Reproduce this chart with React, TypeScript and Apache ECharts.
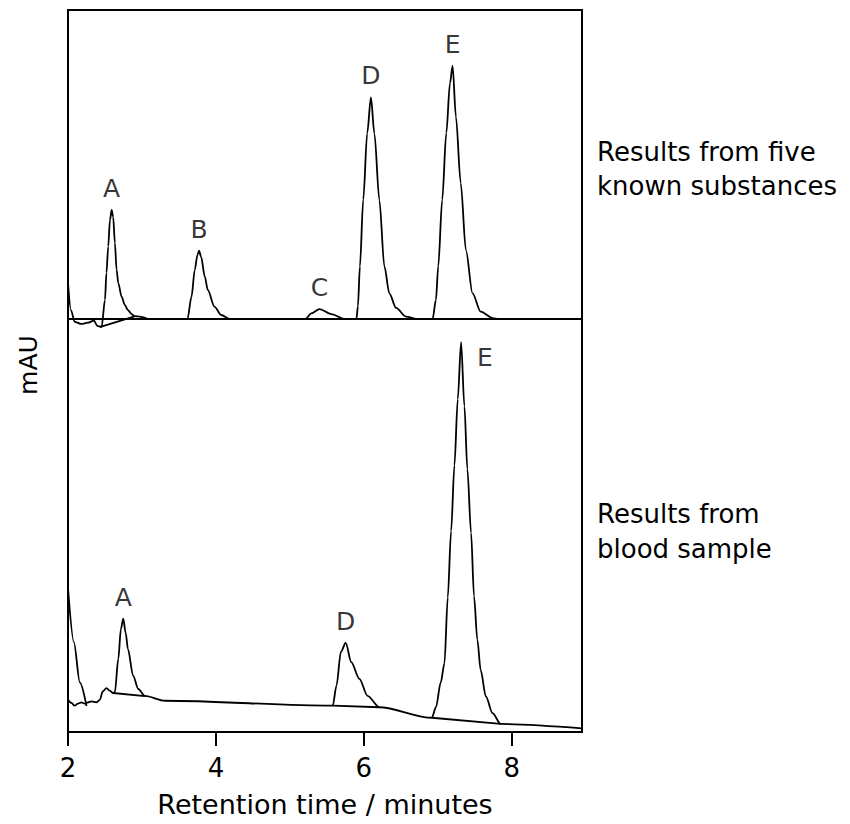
import React, { useEffect, useRef } from "react";
import * as echarts from "echarts";

// ---- axis ranges / ticks ----
const X_MIN = 2;
const X_MAX = 8.95;
const X_STEP = 2;
const TOP_MAX = 100;
const BOTTOM_MAX = 133.5;

// ---- texts ----
const xTitle = "Retention time / minutes";
const yTitle = "mAU";
const panelNames = ["Results from five\nknown substances", "Results from\nblood sample"];

// ---- top chromatogram (five known substances): [minutes, signal] ----
const topTrace: [number, number][] = [
  [2.0, 11.6], [2.04, 2.9], [2.09, -0.9], [2.18, -1.6], [2.27, -1.2], [2.35, -0.5], [2.4, -2.3], [2.455, -2.5],
  [2.5, 6.2], [2.52, 14.9], [2.544, 23.5], [2.567, 32], [2.59, 35.3], [2.611, 33], [2.634, 24.6], [2.657, 15.9],
  [2.68, 11.6], [2.725, 7.2], [2.77, 4.5], [2.81, 2.9], [2.86, 1.6], [2.9, 0.9], [2.97, 0.8], [3.01, 0.6], [3.08, 0],
  [3.615, 0], [3.67, 7.2], [3.714, 15.9], [3.75, 20.7], [3.772, 22.1], [3.8, 20.1], [3.85, 13.7], [3.89, 9.4],
  [3.98, 4.0], [4.07, 1.3], [4.19, 0],
  [5.21, 0], [5.29, 1.8], [5.4, 3.2], [5.56, 1.6], [5.74, 0],
  [5.9, 0], [5.92, 4.1], [5.947, 17.0], [5.992, 38.6], [6.046, 60.2], [6.096, 71.7], [6.143, 60], [6.21, 38.5],
  [6.278, 17], [6.345, 8.3], [6.436, 3.6], [6.57, 0.8], [6.73, 0],
  [6.93, 0], [6.975, 6.2], [7.006, 17], [7.06, 38.6], [7.115, 60.2], [7.165, 76.3], [7.2, 82], [7.245, 65.5],
  [7.31, 44], [7.38, 22.3], [7.47, 8.3], [7.58, 2.4], [7.74, 0.3], [7.82, 0], [8.95, 0],
];
const topBaselineA: [number, number][] = [[2.43, -2.6], [2.9, 0.85]];

// ---- bottom chromatogram (blood sample) ----
const bottomFront: [number, number][] = [[2.0, 46.5], [2.08, 29], [2.16, 16], [2.25, 8.4]];
const bottomTrace: [number, number][] = [
  [2.0, 10.4], [2.046, 9.4], [2.09, 8.5], [2.135, 9.2], [2.18, 9.6], [2.225, 9.2], [2.27, 9.6], [2.316, 9.9],
  [2.384, 9.6], [2.43, 10.4], [2.47, 13.1], [2.52, 14.2], [2.565, 13.4], [2.61, 12.6],
  [2.634, 12.9], [2.68, 23.6], [2.715, 33.3], [2.747, 36.6], [2.78, 32], [2.81, 26.9], [2.88, 18.2], [2.95, 13.9],
  [3.04, 11.7], [3.31, 10.1], [5.58, 8.5],
  [5.63, 15], [5.69, 25.9], [5.755, 28.8], [5.83, 22.6], [5.94, 17.2], [6.05, 11.7], [6.21, 8.0],
  [6.92, 4.6], [6.975, 8.0], [7.04, 16], [7.09, 22.2], [7.135, 43.5], [7.18, 64.9], [7.225, 86.2], [7.27, 107.5],
  [7.315, 126], [7.36, 105.3], [7.4, 85], [7.45, 64.4], [7.49, 43.9], [7.535, 29.8], [7.58, 20], [7.65, 11.5],
  [7.74, 6.1], [7.85, 2.6], [8.95, 1.2],
];
const bottomBaselineA: [number, number][] = [[2.61, 12.6], [3.04, 11.6]];
const bottomBaselineD: [number, number][] = [[5.58, 8.5], [6.21, 8.0]];
const bottomBaselineE: [number, number][] = [[6.92, 4.6], [7.85, 2.6]];

// ---- peak labels (at the apex of each peak) ----
const topPeakNames = ["A", "B", "C", "D", "E"];
const topPeakTimes = [2.59, 3.772, 5.4, 6.096, 7.2];
const topPeakValues = [35.3, 22.1, 3.2, 71.7, 82];
const bottomPeakNames = ["A", "D", "E"];
const bottomPeakTimes = [2.747, 5.755, 7.315];
const bottomPeakValues = [36.6, 28.8, 126];

const FONT = "'DejaVu Sans', 'Open Sans', sans-serif";

export default function App() {
  const ref = useRef<HTMLDivElement>(null);
  useEffect(() => {
    if (!ref.current) return;
    const chart = echarts.init(ref.current, null, { renderer: "svg" });
    const lineStyle = { color: "#000", width: 1.8 };
    const traceSeries = (data: [number, number][], idx: number, smooth: number | boolean) => ({
      type: "line",
      data,
      xAxisIndex: idx,
      yAxisIndex: idx,
      symbol: "none",
      smooth,
      smoothMonotone: "x",
      clip: false,
      lineStyle,
      itemStyle: { color: "#000" },
      silent: true,
    });
    const labelText = { color: "#000", fontSize: 25, fontFamily: FONT, textBorderWidth: 0 };
    const labelSeries = (names: string[], ts: number[], vs: number[], idx: number) => ({
      type: "scatter",
      xAxisIndex: idx,
      yAxisIndex: idx,
      symbolSize: 0,
      silent: true,
      itemStyle: { color: "#000" },
      data: names.map((n, i) => ({
        name: n,
        value: [ts[i], vs[i]],
        label:
          idx === 1 && n === "E"
            ? { ...labelText, show: true, position: "right", distance: 16, offset: [0, 15] }
            : { ...labelText, show: true, position: "top", distance: 9 },
      })),
      label: { show: true, formatter: (p: any) => p.name, ...labelText },
    });
    const gridBox = { show: true, borderColor: "#000", borderWidth: 2, backgroundColor: "transparent" };
    chart.setOption({
      animation: false,
      grid: [
        { ...gridBox, left: 68, top: 10, width: 514, height: 309 },
        { ...gridBox, left: 68, top: 319, width: 514, height: 413 },
      ],
      xAxis: [
        { type: "value", gridIndex: 0, min: X_MIN, max: X_MAX, interval: X_STEP, show: false },
        {
          type: "value",
          gridIndex: 1,
          min: X_MIN,
          max: X_MAX,
          interval: X_STEP,
          splitLine: { show: false },
          axisLine: { show: true, lineStyle: { color: "#000", width: 2 } },
          axisTick: { show: true, inside: false, length: 14, lineStyle: { color: "#000", width: 2 } },
          axisLabel: {
            show: true,
            color: "#000",
            fontSize: 26,
            fontFamily: FONT,
            margin: 23,
            showMaxLabel: false,
          },
          name: xTitle,
          nameLocation: "middle",
          nameGap: 59,
          nameTextStyle: { color: "#000", fontSize: 27, fontFamily: FONT },
        },
      ],
      yAxis: [
        { type: "value", gridIndex: 0, min: 0, max: TOP_MAX, show: false },
        { type: "value", gridIndex: 1, min: 0, max: BOTTOM_MAX, show: false },
      ],
      graphic: [
        {
          type: "text",
          x: 28,
          y: 365,
          rotation: Math.PI / 2,
          style: {
            text: yTitle,
            fill: "#000",
            fontSize: 25,
            fontFamily: FONT,
            align: "center",
            verticalAlign: "middle",
          },
        },
        {
          type: "text",
          x: 597,
          y: 169,
          style: {
            text: panelNames[0],
            fill: "#000",
            fontSize: 26,
            lineHeight: 34,
            fontFamily: FONT,
            align: "left",
            verticalAlign: "middle",
          },
        },
        {
          type: "text",
          x: 597,
          y: 531,
          style: {
            text: panelNames[1],
            fill: "#000",
            fontSize: 26,
            lineHeight: 35,
            fontFamily: FONT,
            align: "left",
            verticalAlign: "middle",
          },
        },
      ],
      series: [
        traceSeries(topTrace, 0, 0.3),
        traceSeries(topBaselineA, 0, false),
        traceSeries(bottomFront, 1, 0.3),
        traceSeries(bottomTrace, 1, 0.3),
        traceSeries(bottomBaselineA, 1, false),
        traceSeries(bottomBaselineD, 1, false),
        traceSeries(bottomBaselineE, 1, false),
        labelSeries(topPeakNames, topPeakTimes, topPeakValues, 0),
        labelSeries(bottomPeakNames, bottomPeakTimes, bottomPeakValues, 1),
      ],
    });
    return () => chart.dispose();
  }, []);
  return (
    <div
      ref={ref}
      style={{ position: "absolute", left: 0, top: 0, width: 850, height: 824, background: "#fff" }}
    />
  );
}
